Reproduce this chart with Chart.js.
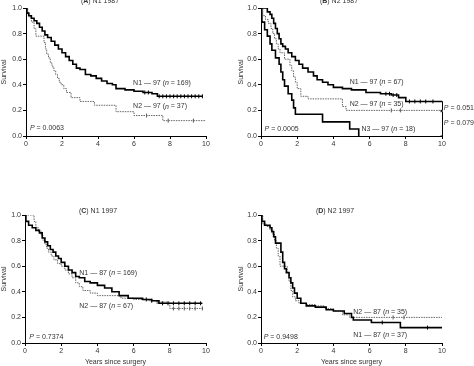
<!DOCTYPE html>
<html>
<head>
<meta charset="utf-8">
<script src="https://cdn.jsdelivr.net/npm/chart.js@4/dist/chart.umd.min.js"></script>
<style>
body{margin:0;background:#fff}
#wrap{position:relative;width:474px;height:366px;overflow:hidden}
canvas{position:absolute}
</style>
</head>
<body>
<div id="wrap">
<canvas id="cA" width="237" height="183" style="left:0;top:0"></canvas>
<canvas id="cB" width="237" height="183" style="left:237px;top:0"></canvas>
<canvas id="cC" width="237" height="183" style="left:0;top:183px"></canvas>
<canvas id="cD" width="237" height="183" style="left:237px;top:183px"></canvas>
</div>
<script>
'use strict';

var xTicks = [0, 2, 4, 6, 8, 10]
var yTicks = [0, 0.2, 0.4, 0.6, 0.8, 1.0]

// (A) N1 1987
var aN1T = [0, 0.05, 0.15, 0.3, 0.45, 0.6, 0.75, 0.9, 1.05, 1.2, 1.4, 1.6, 1.8, 2.0, 2.2, 2.4, 2.6, 2.8, 3.0, 3.3, 3.6, 3.9, 4.2, 4.5, 4.8, 5.0, 5.5, 6.0, 6.5, 7.0, 7.3, 9.8]
var aN1S = [1, 0.96, 0.94, 0.92, 0.90, 0.88, 0.85, 0.82, 0.79, 0.77, 0.74, 0.71, 0.68, 0.65, 0.62, 0.59, 0.56, 0.53, 0.52, 0.48, 0.47, 0.45, 0.43, 0.41, 0.40, 0.37, 0.36, 0.35, 0.34, 0.33, 0.31, 0.31]
var aN1C = [6.6, 6.8, 7.4, 7.6, 7.8, 8.0, 8.2, 8.4, 8.6, 8.8, 9.0, 9.2, 9.4, 9.6, 9.8]
var aN2T = [0, 0.1, 0.2, 0.3, 0.45, 0.55, 1.0, 1.08, 1.15, 1.25, 1.35, 1.45, 1.55, 1.65, 1.75, 1.85, 1.95, 2.1, 2.25, 2.5, 3.0, 3.8, 5.0, 6.0, 7.6, 10]
var aN2S = [1, 0.96, 0.93, 0.89, 0.84, 0.78, 0.73, 0.68, 0.64, 0.61, 0.57, 0.54, 0.51, 0.48, 0.45, 0.42, 0.40, 0.37, 0.34, 0.30, 0.27, 0.24, 0.19, 0.16, 0.12, 0.12]
var aN2C = [6.7, 7.9, 9.3]

// (B) N2 1987
var bN1T = [0, 0.35, 0.5, 0.6, 0.7, 0.8, 0.9, 1.0, 1.1, 1.2, 1.35, 1.5, 1.7, 1.9, 2.1, 2.3, 2.6, 2.9, 3.1, 3.4, 3.7, 4.0, 4.5, 5.0, 5.8, 6.6, 7.2, 7.6, 8.0, 10]
var bN1S = [1, 0.97, 0.95, 0.92, 0.88, 0.84, 0.80, 0.76, 0.72, 0.70, 0.68, 0.65, 0.62, 0.59, 0.56, 0.53, 0.50, 0.47, 0.44, 0.42, 0.40, 0.38, 0.37, 0.36, 0.34, 0.33, 0.32, 0.30, 0.27, 0.27]
var bN1C = [6.9, 7.1, 7.3, 7.5, 8.2, 8.5, 8.8, 9.1, 9.5]
var bN2T = [0, 0.1, 0.25, 0.4, 0.55, 0.65, 0.75, 0.85, 0.95, 1.05, 1.3, 1.6, 1.7, 1.8, 1.9, 2.0, 2.2, 2.6, 4.5, 4.7, 10]
var bN2S = [1, 0.94, 0.91, 0.88, 0.84, 0.80, 0.76, 0.72, 0.68, 0.65, 0.60, 0.55, 0.51, 0.46, 0.42, 0.37, 0.31, 0.29, 0.23, 0.20, 0.20]
var bN2C = [7.2, 7.7]
var bN3T = [0, 0.05, 0.2, 0.35, 0.5, 0.6, 0.8, 1.0, 1.1, 1.2, 1.3, 1.5, 1.7, 1.8, 1.9, 3.4, 4.9, 5.4]
var bN3S = [1, 0.89, 0.83, 0.78, 0.72, 0.67, 0.61, 0.56, 0.50, 0.44, 0.39, 0.33, 0.28, 0.22, 0.17, 0.11, 0.055, 0]

// (C) N1 1997
var cN1T = [0, 0.05, 0.2, 0.4, 0.6, 0.8, 0.95, 1.1, 1.25, 1.4, 1.55, 1.7, 1.85, 2.0, 2.2, 2.4, 2.6, 2.8, 3.0, 3.3, 3.6, 4.0, 4.4, 4.8, 5.2, 5.7, 6.5, 7.0, 7.4, 9.8]
var cN1S = [1, 0.95, 0.92, 0.90, 0.88, 0.86, 0.82, 0.79, 0.76, 0.73, 0.71, 0.68, 0.66, 0.63, 0.60, 0.57, 0.55, 0.52, 0.51, 0.48, 0.47, 0.45, 0.43, 0.40, 0.37, 0.35, 0.34, 0.33, 0.31, 0.31]
var cN1C = [6.7, 7.0, 7.6, 7.9, 8.2, 8.5, 8.8, 9.1, 9.4, 9.7]
var cN2T = [0, 0.5, 0.6, 0.75, 0.9, 1.0, 1.1, 1.2, 1.3, 1.45, 1.6, 1.8, 2.0, 2.2, 2.4, 2.6, 2.8, 3.0, 3.2, 3.6, 4.0, 5.3, 6.0, 6.8, 7.3, 8.0, 9.8]
var cN2S = [1, 0.95, 0.90, 0.87, 0.84, 0.80, 0.77, 0.74, 0.71, 0.68, 0.65, 0.62, 0.60, 0.57, 0.54, 0.51, 0.47, 0.44, 0.41, 0.39, 0.37, 0.35, 0.34, 0.33, 0.32, 0.27, 0.27]
var cN2C = [7.3, 8.2, 8.5, 8.8, 9.1, 9.4, 9.8]

// (D) N2 1997
var dN1T = [0, 0.05, 0.2, 0.5, 0.6, 0.7, 0.8, 1.1, 1.2, 1.3, 1.4, 1.55, 1.65, 1.75, 1.85, 2.0, 2.2, 2.5, 3.0, 3.6, 4.0, 4.6, 5.0, 5.1, 6.1, 7.7, 10]
var dN1S = [1, 0.95, 0.92, 0.90, 0.87, 0.83, 0.78, 0.71, 0.63, 0.58, 0.55, 0.51, 0.47, 0.43, 0.39, 0.35, 0.31, 0.29, 0.28, 0.26, 0.25, 0.23, 0.20, 0.18, 0.16, 0.12, 0.12]
var dN1C = [6.7, 9.2]
var dN2T = [0, 0.1, 0.3, 0.5, 0.65, 0.75, 0.85, 0.95, 1.05, 1.45, 1.55, 1.65, 1.75, 1.9, 2.1, 2.5, 3.0, 3.5, 4.0, 4.5, 4.9, 10]
var dN2S = [1, 0.93, 0.91, 0.88, 0.85, 0.80, 0.74, 0.68, 0.60, 0.55, 0.48, 0.41, 0.36, 0.33, 0.31, 0.30, 0.29, 0.27, 0.25, 0.22, 0.20, 0.20]
var dN2C = [7.3, 7.9]

var FONT = '"Liberation Sans", Arial, sans-serif'
var TXT = '#333'

function survAt(ts, ss, x) {
	var v = ss[0]
	for (var i = 0; i < ts.length; i++) if (ts[i] <= x) v = ss[i]
	return v
}

function curve(ts, ss, dashed) {
	return {
		data: ts.map((t, i)=>({x: t, y: ss[i]})),
		borderColor: dashed ? '#666' : '#000',
		borderWidth: dashed ? 1 : 1.6,
		borderDash: dashed ? [1.5, 1] : [],
		stepped: 'before',
		pointRadius: 0,
		fill: false
	}
}

function censors(ts, ss, cs, dashed) {
	return {
		data: cs.map((c)=>({x: c, y: survAt(ts, ss, c)})),
		showLine: false,
		pointStyle: 'line',
		rotation: 90,
		pointRadius: 2,
		borderColor: dashed ? '#555' : '#000',
		borderWidth: 1
	}
}

function drawRich(ctx, str, x, y) {
	var parts = str.split(/(\*[^*]+\*|_[^_]+_)/).filter((p)=>p.length)
	parts.forEach((p)=>{
		var style = ''
		if (p[0] == '*') { style = 'bold '; p = p.slice(1, -1) }
		else if (p[0] == '_') { style = 'italic '; p = p.slice(1, -1) }
		ctx.font = style + '7px ' + FONT
		ctx.fillText(p, x, y)
		x += ctx.measureText(p).width
	})
}

var textPlugin = {
	id: 'texts',
	afterDraw(chart) {
		var o = chart.options.plugins.texts
		var ctx = chart.ctx, sx = chart.scales.x, sy = chart.scales.y
		ctx.save()
		ctx.fillStyle = TXT
		ctx.textAlign = 'left'
		var tw = 0
		o.title.text.split(/(\*[^*]+\*)/).filter((p)=>p.length).forEach((p)=>{
			ctx.font = (p[0] == '*' ? 'bold ' : '') + '7px ' + FONT
			tw += ctx.measureText(p.replace(/\*/g, '')).width
		})
		ctx.textBaseline = 'alphabetic'
		drawRich(ctx, o.title.text, o.title.x - tw / 2, o.title.y)
		ctx.textBaseline = 'middle'
		o.labels.forEach((l)=>{
			drawRich(ctx, l.text, sx.getPixelForValue(l.x), sy.getPixelForValue(l.y))
		})
		ctx.strokeStyle = '#000'
		ctx.lineWidth = 1
		;(o.brackets || []).forEach((b)=>{
			var bx = Math.round(sx.getPixelForValue(b.x)) + 0.5
			var y1 = sy.getPixelForValue(b.y1), y2 = sy.getPixelForValue(b.y2)
			ctx.beginPath()
			ctx.moveTo(bx - 2, y1); ctx.lineTo(bx, y1); ctx.lineTo(bx, y2); ctx.lineTo(bx - 2, y2)
			ctx.stroke()
		})
		ctx.restore()
	}
}

function makeChart(id, datasets, area, xTitle, texts) {
	var W = 237, H = 183
	var xH = xTitle ? H - area.b : 14
	return new Chart(document.getElementById(id), {
		type: 'line',
		data: {datasets: datasets},
		plugins: [textPlugin],
		options: {
			responsive: false,
			animation: false,
			events: [],
			layout: {padding: {left: 0, right: W - area.r, top: area.t, bottom: H - area.b - xH}},
			plugins: {legend: {display: false}, tooltip: {enabled: false}, texts: texts},
			scales: {
				x: {
					type: 'linear', min: 0, max: 10,
					afterFit: (s)=>{ s.height = xH },
					afterBuildTicks: (s)=>{ s.ticks = xTicks.map((v)=>({value: v})) },
					grid: {drawOnChartArea: false, tickLength: 3, color: '#000'},
					border: {color: '#000', width: 1},
					ticks: {font: {family: FONT, size: 7}, color: TXT, padding: 1, maxRotation: 0},
					title: {display: !!xTitle, text: xTitle, font: {family: FONT, size: 7}, color: TXT, padding: {top: 0, bottom: 0}}
				},
				y: {
					min: 0, max: 1,
					afterFit: (s)=>{ s.width = area.l },
					afterBuildTicks: (s)=>{ s.ticks = yTicks.map((v)=>({value: v})) },
					grid: {drawOnChartArea: false, tickLength: 3, color: '#000'},
					border: {color: '#000', width: 1},
					ticks: {font: {family: FONT, size: 7}, color: TXT, padding: 1, callback: (v)=>v.toFixed(1)},
					title: {display: true, text: 'Survival', font: {family: FONT, size: 7}, color: TXT, padding: {top: 0, bottom: 0}}
				}
			}
		}
	})
}

makeChart('cA', [
	curve(aN1T, aN1S, false), curve(aN2T, aN2S, true),
	censors(aN1T, aN1S, aN1C, false), censors(aN2T, aN2S, aN2C, true)
], {l: 26, r: 206, t: 8, b: 136}, null, {
	title: {text: '(*A*) N1 1987', x: 100, y: 3},
	labels: [
		{text: 'N1 \u2014 97 (_n_ = 169)', x: 5.95, y: 0.41},
		{text: 'N2 \u2014 97 (_n_ = 37)', x: 5.95, y: 0.23},
		{text: '_P_ = 0.0063', x: 0.22, y: 0.06}
	]
})

makeChart('cB', [
	curve(bN1T, bN1S, false), curve(bN2T, bN2S, true), curve(bN3T, bN3S, false),
	censors(bN1T, bN1S, bN1C, false), censors(bN2T, bN2S, bN2C, true)
], {l: 24, r: 205, t: 8, b: 136}, null, {
	title: {text: '(*B*) N2 1987', x: 102, y: 3},
	labels: [
		{text: 'N1 \u2014 97 (_n_ = 67)', x: 4.9, y: 0.42},
		{text: 'N2 \u2014 97 (_n_ = 35)', x: 4.9, y: 0.25},
		{text: 'N3 \u2014 97 (_n_ = 18)', x: 5.55, y: 0.055},
		{text: '_P_ = 0.0005', x: 0.2, y: 0.055},
		{text: '_P_ = 0.0515', x: 10.1, y: 0.22},
		{text: '_P_ = 0.0791', x: 10.1, y: 0.10}
	],
	brackets: [{x: 10, y1: 0.27, y2: 0.20}, {x: 10, y1: 0.19, y2: 0.0}]
})

makeChart('cC', [
	curve(cN1T, cN1S, false), curve(cN2T, cN2S, true),
	censors(cN1T, cN1S, cN1C, false), censors(cN2T, cN2S, cN2C, true)
], {l: 25, r: 206, t: 32, b: 160}, 'Years since surgery', {
	title: {text: '(*C*) N1 1997', x: 98, y: 30},
	labels: [
		{text: 'N1 \u2014 87 (_n_ = 169)', x: 3.0, y: 0.55},
		{text: 'N2 \u2014 87 (_n_ = 67)', x: 3.0, y: 0.29},
		{text: '_P_ = 0.7374', x: 0.24, y: 0.045}
	]
})

makeChart('cD', [
	curve(dN1T, dN1S, false), curve(dN2T, dN2S, true),
	censors(dN1T, dN1S, dN1C, false), censors(dN2T, dN2S, dN2C, true)
], {l: 24, r: 205, t: 32, b: 160}, 'Years since surgery', {
	title: {text: '(*D*) N2 1997', x: 98, y: 30},
	labels: [
		{text: 'N2 \u2014 87 (_n_ = 35)', x: 5.1, y: 0.24},
		{text: 'N1 \u2014 87 (_n_ = 37)', x: 5.1, y: 0.06},
		{text: '_P_ = 0.9498', x: 0.15, y: 0.047}
	]
})
</script>
</body>
</html>
